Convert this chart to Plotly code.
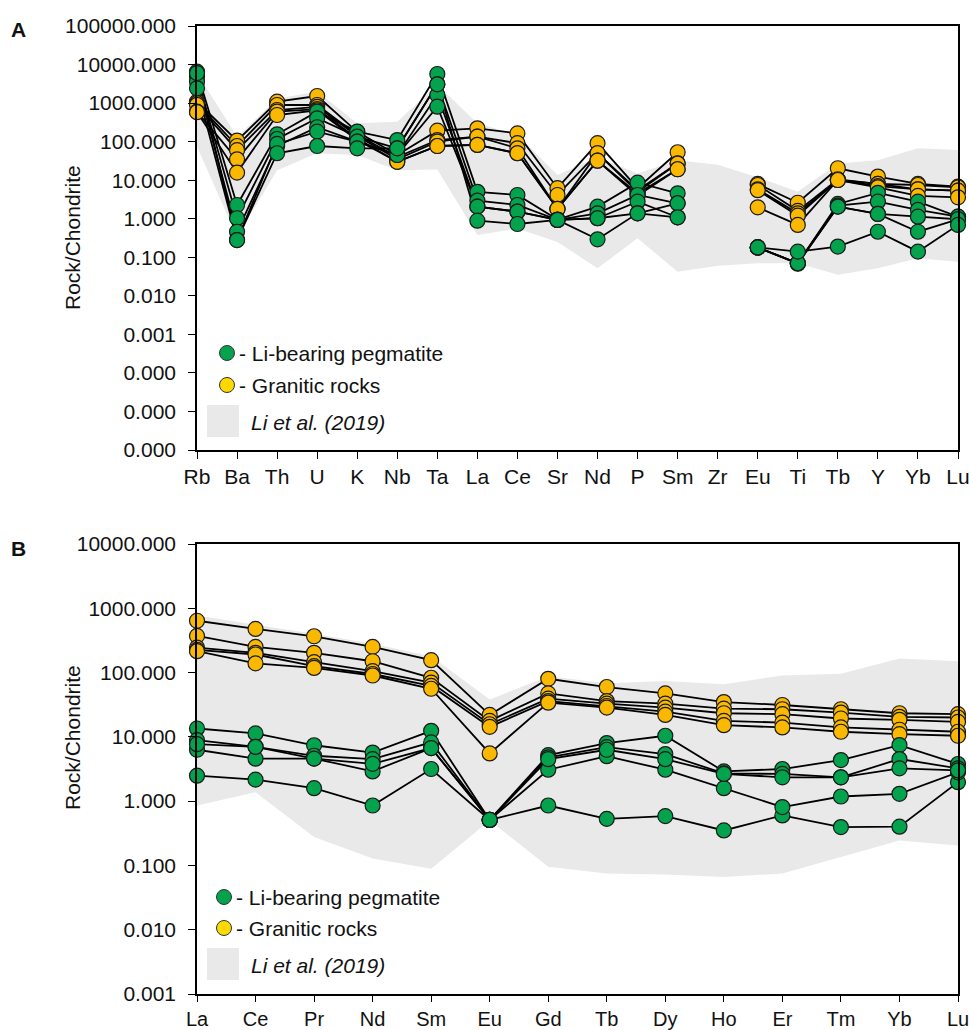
import plotly.graph_objects as go

W, H = 969, 1030

# ---------------- Panel A: multi-element spider diagram ----------------
elements_a = ["Rb", "Ba", "Th", "U", "K", "Nb", "Ta", "La", "Ce", "Sr",
              "Nd", "P", "Sm", "Zr", "Eu", "Ti", "Tb", "Y", "Yb", "Lu"]

# Li et al. (2019) envelope
band_a_upper = [6000, 134, 1300, 2000, 300, 330, 3000, 300, 150, 13.6,
                40, 15, 33, 25, 12, 5.0, 27, 33, 67, 61]
band_a_lower = [74, 0.34, 18, 50, 45, 18, 19, 0.38, 0.56, 0.25,
                0.052, 0.31, 0.042, 0.06, 0.07, 0.07, 0.035, 0.052, 0.094, 0.077]

# Granitic rocks (Zr not analysed -> None)
granite_a_1 = [1090, 106, 1090, 1528, 180, 45, 192, 222, 164, 6.2,
               91, 6.2, 53, None, 8.0, 2.6, 20.4, 12.4, 8.0, 6.8]
granite_a_2 = [1000, 77, 893, 893, 150, 40, 110, 135, 91, 4.13,
               50, 5.5, 27.4, None, 7.5, 1.6, 10.5, 8.0, 7.5, 6.5]
granite_a_3 = [900, 60, 662, 800, 140, 35, 100, 135, 67, 1.79,
               50, 5.0, 27, None, 5.8, 1.38, 10.1, 8.0, 5.8, 5.35]
granite_a_4 = [600, 34.8, 600, 700, 120, 30, 77, 82, 50, 1.8,
               32, 4.5, 19.2, None, 5.5, 1.2, 10.1, 7.0, 5.8, 5.35]
granite_a_5 = [580, 15.7, 491, 650, 110, 30, 77, 82, 50, 1.8,
               32, 4.0, 19.2, None, 1.98, 0.69, 10.1, 6.5, 3.9, 3.6]

# Li-bearing pegmatite
pegm_a_1 = [6530, 2.27, 155, 600, 182, 110, 5690, 5.0, 4.13, 0.95,
            2.06, 8.6, 4.57, None, 0.18, 0.07, 2.42, 4.7, 2.77, 1.13]
pegm_a_2 = [4840, 1.03, 117, 403, 135, 67, 3070, 2.95, 2.27, 0.93,
            1.38, 4.13, 2.52, None, 0.18, 0.07, 2.2, 2.77, 1.69, 1.13]
pegm_a_3 = [3590, 0.46, 77, 236, 100, 45, 1622, 2.06, 1.52, 0.93,
            1.03, 2.77, 1.09, None, 0.18, 0.068, 2.06, 1.33, 1.13, 0.97]
pegm_a_4 = [2420, 0.28, 87, 182, 100, 45, 807, 2.06, 1.52, 0.93,
            1.03, 1.38, 2.52, None, 0.18, 0.07, 2.06, 1.33, 0.46, 0.97]
pegm_a_5 = [6000, 0.28, 50, 77, 67, 67, 3070, 0.89, 0.73, 0.93,
            0.293, 1.38, 1.09, None, 0.18, 0.14, 0.19, 0.46, 0.14, 0.69]

# ---------------- Panel B: REE diagram ----------------
elements_b = ["La", "Ce", "Pr", "Nd", "Sm", "Eu", "Gd", "Tb", "Dy", "Ho",
              "Er", "Tm", "Yb", "Lu"]

band_b_upper = [770, 560, 400, 280, 180, 38, 88, 68, 74, 66, 90, 96, 166, 150]
band_b_lower = [0.855, 1.38, 0.277, 0.128, 0.089, 0.5, 0.095, 0.075, 0.072,
                0.066, 0.075, 0.135, 0.245, 0.205]

granite_b_1 = [640, 477, 367, 251, 156, 21.9, 80, 59.6, 47.5, 34.8, 31.3, 26.9, 23.3, 22.5]
granite_b_2 = [372, 251, 203, 150, 83, 17.7, 47.5, 36, 32.9, 27.5, 26.9, 23.9, 20.5, 20.0]
granite_b_3 = [245, 203, 145, 105, 70, 15.7, 39.3, 32.9, 28.5, 23.3, 22.5, 19.3, 18.4, 17.1]
granite_b_4 = [225, 191, 126, 95, 62, 14.3, 36, 30.2, 24.7, 17.7, 16.7, 14.0, 12.9, 12.0]
granite_b_5 = [215, 139, 118, 90, 56, 5.53, 34, 28.5, 21.9, 15.2, 14.0, 12.0, 11.0, 10.4]

pegm_b_1 = [2.49, 2.16, 1.59, 0.855, 3.16, 0.51, 0.855, 0.53, 0.585, 0.35, 0.60, 0.395, 0.40, 1.97]
pegm_b_2 = [6.3, 4.57, 4.6, 2.9, 6.7, 0.51, 3.08, 5.0, 3.08, 1.59, 0.81, 1.18, 1.30, 2.81]
pegm_b_3 = [13.5, 11.3, 7.4, 5.7, 12.4, 0.51, 5.2, 8.0, 10.4, 2.9, 3.16, 4.36, 7.45, 3.78]
pegm_b_4 = [8.9, 7.0, 5.08, 4.5, 8.2, 0.51, 4.8, 6.9, 5.4, 2.7, 2.65, 2.35, 4.52, 3.24]
pegm_b_5 = [7.7, 7.0, 4.6, 3.8, 6.7, 0.51, 4.5, 6.3, 4.5, 2.65, 2.35, 2.35, 3.24, 3.0]

# y tick values (labels printed with three decimals)
yticks_a = [10.0 ** k for k in range(-6, 6)]
yticks_b = [10.0 ** k for k in range(-3, 5)]

# ---------------- styling ----------------
FONT = "Liberation Sans, Arial, sans-serif"
GREEN = "#03A24D"
YELLOW = "#FAB900"
LEGEND_YELLOW = "#FFD800"
BAND = "#E9E9E9"
MARKER_SIZE = 15

fig = go.Figure()


def add_panel(xa, ya, cats, upper, lower, granites, pegms):
    # envelope
    fig.add_trace(go.Scatter(
        x=cats + cats[::-1], y=upper + lower[::-1],
        fill="toself", fillcolor=BAND, mode="lines",
        line=dict(width=0, color=BAND), hoverinfo="skip",
        showlegend=False, xaxis=xa, yaxis=ya))
    # connecting lines, beneath all symbols
    for s in granites + pegms:
        fig.add_trace(go.Scatter(
            x=cats, y=s, mode="lines", connectgaps=False,
            line=dict(color="black", width=1.8),
            showlegend=False, hoverinfo="skip", xaxis=xa, yaxis=ya))
    # symbols
    for group, col in ((granites, YELLOW), (pegms, GREEN)):
        for s in group:
            fig.add_trace(go.Scatter(
                x=cats, y=s, mode="markers", cliponaxis=False,
                marker=dict(size=MARKER_SIZE, color=col,
                            line=dict(color="#1a1a1a", width=1.2)),
                showlegend=False, xaxis=xa, yaxis=ya))


add_panel("x", "y", elements_a, band_a_upper, band_a_lower,
          [granite_a_1, granite_a_2, granite_a_3, granite_a_4, granite_a_5],
          [pegm_a_1, pegm_a_2, pegm_a_3, pegm_a_4, pegm_a_5])
add_panel("x2", "y2", elements_b, band_b_upper, band_b_lower,
          [granite_b_1, granite_b_2, granite_b_3, granite_b_4, granite_b_5],
          [pegm_b_1, pegm_b_2, pegm_b_3, pegm_b_4, pegm_b_5])

X0, X1 = 197, 958
A_TOP, A_BOT = 26, 450
B_TOP, B_BOT = 544, 994


def ydom(top, bot):
    return [1 - bot / H, 1 - top / H]


axis_common = dict(showline=True, linecolor="black", linewidth=1.6, mirror=True,
                   ticks="outside", ticklen=7, tickwidth=1.4, tickcolor="black",
                   showgrid=False, zeroline=False, automargin=False,
                   tickfont=dict(family=FONT, size=21, color="#111111"))

fig.update_layout(
    width=W, height=H,
    margin=dict(l=0, r=0, t=0, b=0, autoexpand=False),
    paper_bgcolor="white", plot_bgcolor="white",
    showlegend=False,
    xaxis=dict(domain=[X0 / W, X1 / W], anchor="y", type="category",
               categoryorder="array", categoryarray=elements_a,
               range=[0, len(elements_a) - 1], ticklabelstandoff=0, **axis_common),
    yaxis=dict(domain=ydom(A_TOP, A_BOT), anchor="x", type="log",
               range=[-6, 5], tickmode="array", tickvals=yticks_a,
               ticktext=[f"{v:.3f}" for v in yticks_a], ticklabelstandoff=8,
               **axis_common),
    xaxis2=dict(domain=[X0 / W, X1 / W], anchor="y2", type="category",
                categoryorder="array", categoryarray=elements_b,
                range=[0, len(elements_b) - 1], ticklabelstandoff=0, **axis_common),
    yaxis2=dict(domain=ydom(B_TOP, B_BOT), anchor="x2", type="log",
                range=[-3, 4], tickmode="array", tickvals=yticks_b,
                ticktext=[f"{v:.3f}" for v in yticks_b], ticklabelstandoff=8,
                **axis_common),
)
fig.update_xaxes(ticklen=6, tickfont_size=20, selector=dict(anchor="y2"))

annotations = []
shapes = []


def txt(x, y, s, size=21, **kw):
    annotations.append(dict(x=x / W, y=1 - y / H, xref="paper", yref="paper",
                            text=s, showarrow=False,
                            font=dict(family=FONT, size=size, color="#111111"),
                            **kw))


# panel letters and axis titles
txt(18, 30, "<b>A</b>", size=21, xanchor="center", yanchor="middle")
txt(18, 548, "<b>B</b>", size=21, xanchor="center", yanchor="middle")
txt(72, 238, "Rock/Chondrite", size=21, textangle=-90, xanchor="center", yanchor="middle")
txt(72, 738, "Rock/Chondrite", size=21, textangle=-90, xanchor="center", yanchor="middle")


def legend(cx, y_green, y_yellow, sq_top):
    r = 7.5
    for yy, col in ((y_green, GREEN), (y_yellow, LEGEND_YELLOW)):
        shapes.append(dict(type="circle", xref="paper", yref="paper",
                           x0=(cx - r) / W, x1=(cx + r) / W,
                           y0=1 - (yy + r) / H, y1=1 - (yy - r) / H,
                           fillcolor=col, line=dict(color="#333333", width=1)))
    shapes.append(dict(type="rect", xref="paper", yref="paper",
                       x0=207 / W, x1=239 / W,
                       y0=1 - (sq_top + 32) / H, y1=1 - sq_top / H,
                       fillcolor=BAND, line=dict(width=0), layer="above"))
    txt(cx + 10, y_green, "- Li-bearing pegmatite", xanchor="left", yanchor="middle")
    txt(cx + 10, y_yellow, "- Granitic rocks", xanchor="left", yanchor="middle")
    txt(249, sq_top + 17, "<i>Li et al. (2019)</i>", xanchor="left", yanchor="middle")


legend(227, 353, 385, 405)
legend(224, 897, 928, 948)

fig.update_layout(annotations=annotations, shapes=shapes)

fig.write_html("out.html")
